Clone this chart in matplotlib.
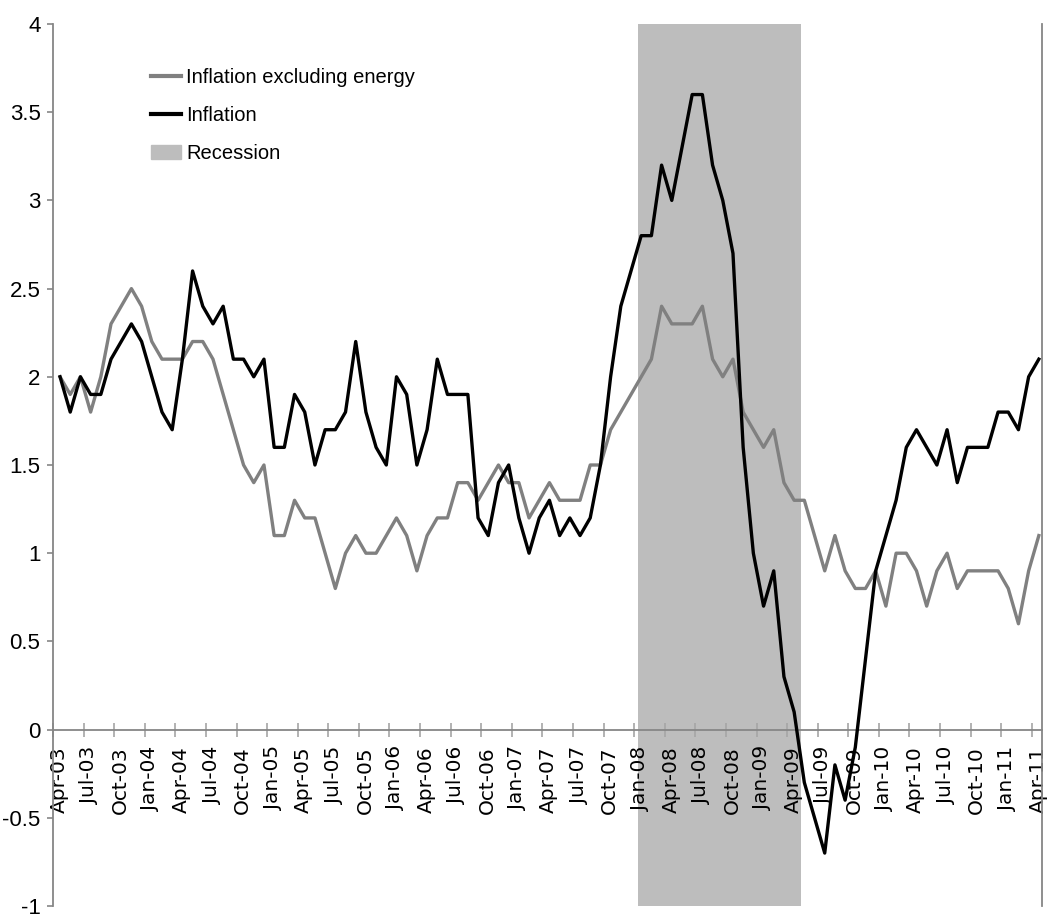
import matplotlib
matplotlib.use("Agg")
import matplotlib.pyplot as plt
import numpy as np
import pandas as pd
from matplotlib.lines import Line2D
from matplotlib.patches import Patch

# monthly data, Apr-03 .. Apr-11
months = pd.date_range("2003-04-01", "2011-04-01", freq="MS")

inflation = [
    2.0, 1.8, 2.0, 1.9, 1.9, 2.1, 2.2, 2.3, 2.2, 2.0, 1.8, 1.7,
    2.1, 2.6, 2.4, 2.3, 2.4, 2.1, 2.1, 2.0, 2.1, 1.6, 1.6, 1.9,
    1.8, 1.5, 1.7, 1.7, 1.8, 2.2, 1.8, 1.6, 1.5, 2.0, 1.9, 1.5,
    1.7, 2.1, 1.9, 1.9, 1.9, 1.2, 1.1, 1.4, 1.5, 1.2, 1.0, 1.2,
    1.3, 1.1, 1.2, 1.1, 1.2, 1.5, 2.0, 2.4, 2.6, 2.8, 2.8, 3.2,
    3.0, 3.3, 3.6, 3.6, 3.2, 3.0, 2.7, 1.6, 1.0, 0.7, 0.9, 0.3,
    0.1, -0.3, -0.5, -0.7, -0.2, -0.4, -0.1, 0.4, 0.9, 1.1, 1.3, 1.6,
    1.7, 1.6, 1.5, 1.7, 1.4, 1.6, 1.6, 1.6, 1.8, 1.8, 1.7, 2.0,
    2.1,
]

inflation_ex_energy = [
    2.0, 1.9, 2.0, 1.8, 2.0, 2.3, 2.4, 2.5, 2.4, 2.2, 2.1, 2.1,
    2.1, 2.2, 2.2, 2.1, 1.9, 1.7, 1.5, 1.4, 1.5, 1.1, 1.1, 1.3,
    1.2, 1.2, 1.0, 0.8, 1.0, 1.1, 1.0, 1.0, 1.1, 1.2, 1.1, 0.9,
    1.1, 1.2, 1.2, 1.4, 1.4, 1.3, 1.4, 1.5, 1.4, 1.4, 1.2, 1.3,
    1.4, 1.3, 1.3, 1.3, 1.5, 1.5, 1.7, 1.8, 1.9, 2.0, 2.1, 2.4,
    2.3, 2.3, 2.3, 2.4, 2.1, 2.0, 2.1, 1.8, 1.7, 1.6, 1.7, 1.4,
    1.3, 1.3, 1.1, 0.9, 1.1, 0.9, 0.8, 0.8, 0.9, 0.7, 1.0, 1.0,
    0.9, 0.7, 0.9, 1.0, 0.8, 0.9, 0.9, 0.9, 0.9, 0.8, 0.6, 0.9,
    1.1,
]

# recession band, in months since Apr-03
recession_start = 57.37
recession_end = 73.38

label_font = ["Liberation Sans", "DejaVu Sans"]
axis_grey = "#868686"

fig = plt.figure(figsize=(10.48, 9.18), dpi=100)
ax = fig.add_axes([53 / 1048, 12 / 918, 989 / 1048, 882 / 918])

x = np.arange(len(months)) + 0.69

ax.axvspan(recession_start, recession_end, color="#bdbdbd", lw=0, zorder=1)
ax.plot(x, inflation_ex_energy, color="#808080", lw=2.4, zorder=3)
ax.plot(x, inflation, color="black", lw=2.4, zorder=3)

ax.set_xlim(0, 97.0)
ax.set_ylim(-1, 4)

ax.spines["top"].set_visible(False)
for side in ["left", "right", "bottom"]:
    ax.spines[side].set_color(axis_grey)
    ax.spines[side].set_linewidth(1.3)
ax.spines["bottom"].set_position(("data", 0))

yvals = np.arange(-1, 4.01, 0.5)
ax.set_yticks(yvals)
ax.set_yticklabels([f"{v:g}" for v in yvals], family=label_font, fontsize=16)
ax.tick_params(axis="y", direction="out", length=4, width=1.2, color=axis_grey, pad=5)

# tick marks every quarter, labels slightly right of each mark
tick_pos = np.arange(0, len(months), 3)
ax.set_xticks(tick_pos)
ax.set_xticklabels([])
ax.tick_params(axis="x", which="major", direction="inout", length=10, width=1.2, color="#a6a6a6")
ax.set_xticks(tick_pos + 0.6, minor=True)
ax.set_xticklabels([months[i].strftime("%b-%y") for i in tick_pos], minor=True,
                   rotation=90, fontsize=14.5, va="top", ha="center")
ax.tick_params(axis="x", which="minor", length=0, pad=12)

handles = [
    Line2D([], [], color="#808080", lw=3),
    Line2D([], [], color="black", lw=3),
    Patch(color="#bdbdbd"),
]
labels = ["Inflation excluding energy", "Inflation", "Recession"]
ax.legend(handles, labels, loc="upper left", bbox_to_anchor=(0.089, 0.962),
          frameon=False, borderpad=0, handlelength=1.5, handletextpad=0.25,
          labelspacing=0.95, prop={"family": label_font, "size": 14.5})

fig.savefig("out.png", dpi=100)
